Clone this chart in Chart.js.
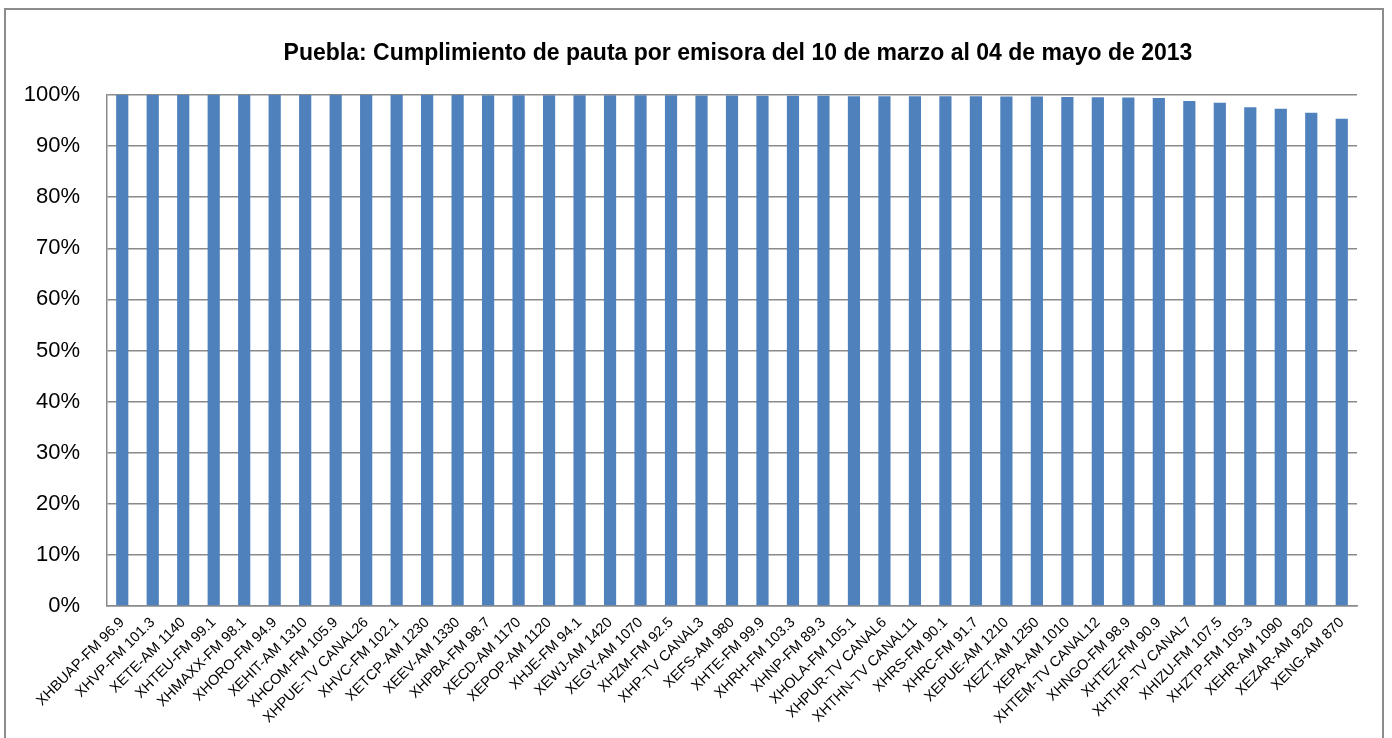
<!DOCTYPE html>
<html>
<head>
<meta charset="utf-8">
<script src="https://cdn.jsdelivr.net/npm/chart.js@4"></script>
<style>
    html, body { margin: 0; padding: 0; background: #fff; }
    #wrap { position: relative; width: 1392px; height: 738px; overflow: hidden; }
    #frame { position: absolute; left: 4px; top: 8px; width: 1380px; height: 760px; border: 2px solid #8c8c8c; box-sizing: border-box; }
    #chart { position: absolute; left: 0; top: 0; }
    #title { position: absolute; left: 84px; right: 0; top: 38px; text-align: center;
             font: bold 23px/28px 'Liberation Sans', sans-serif; color: #000; }
</style>
</head>
<body>
<div id="wrap">
    <div id="frame"></div>
    <canvas id="chart" width="1392" height="738"></canvas>
    <div id="title"></div>
</div>
<script>
// Emisoras (eje X)
const stations = [
    'XHBUAP-FM 96.9', 'XHVP-FM 101.3', 'XETE-AM 1140', 'XHTEU-FM 99.1', 'XHMAXX-FM 98.1',
    'XHORO-FM 94.9', 'XEHIT-AM 1310', 'XHCOM-FM 105.9', 'XHPUE-TV CANAL26', 'XHVC-FM 102.1',
    'XETCP-AM 1230', 'XEEV-AM 1330', 'XHPBA-FM 98.7', 'XECD-AM 1170', 'XEPOP-AM 1120',
    'XHJE-FM 94.1', 'XEWJ-AM 1420', 'XEGY-AM 1070', 'XHZM-FM 92.5', 'XHP-TV CANAL3',
    'XEFS-AM 980', 'XHTE-FM 99.9', 'XHRH-FM 103.3', 'XHNP-FM 89.3', 'XHOLA-FM 105.1',
    'XHPUR-TV CANAL6', 'XHTHN-TV CANAL11', 'XHRS-FM 90.1', 'XHRC-FM 91.7', 'XEPUE-AM 1210',
    'XEZT-AM 1250', 'XEPA-AM 1010', 'XHTEM-TV CANAL12', 'XHNGO-FM 98.9', 'XHTEZ-FM 90.9',
    'XHTHP-TV CANAL7', 'XHIZU-FM 107.5', 'XHZTP-FM 105.3', 'XEHR-AM 1090', 'XEZAR-AM 920',
    'XENG-AM 870'
];

// Porcentaje de cumplimiento
const compliance = [
    100, 100, 100, 100, 100,
    100, 100, 100, 100, 100,
    100, 100, 99.95, 99.95, 99.95,
    99.95, 99.95, 99.95, 99.95, 99.9,
    99.9, 99.85, 99.85, 99.85, 99.75,
    99.75, 99.75, 99.75, 99.75, 99.7,
    99.7, 99.6, 99.55, 99.5, 99.4,
    98.85, 98.5, 97.6, 97.3, 96.55,
    95.35
];

// Ticks del eje Y
const yTicks = [0, 10, 20, 30, 40, 50, 60, 70, 80, 90, 100];

const chartTitle = 'Puebla: Cumplimiento de pauta por emisora del 10 de marzo al 04 de mayo de 2013';

const gridColor = '#8a8a8a';

// title sits off-centre in the original, so it's plain HTML over the canvas
document.getElementById('title').textContent = chartTitle;

new Chart(document.getElementById('chart'), {
    type: 'bar',
    data: {
        labels: stations,
        datasets: [{
            data: compliance,
            backgroundColor: '#4f81bd',
            borderWidth: 0,
            barPercentage: 0.4,
            categoryPercentage: 1.0
        }]
    },
    options: {
        responsive: false,
        animation: false,
        layout: {
            padding: { top: 95, right: 35, bottom: 0, left: 0 }
        },
        plugins: {
            legend: { display: false },
            tooltip: { enabled: false },
            title: { display: false }
        },
        scales: {
            y: {
                min: 0,
                max: 100,
                afterBuildTicks: function (scale) {
                    scale.ticks = yTicks.map(v => ({ value: v }));
                },
                afterFit: function (scale) {
                    scale.width = 107;
                },
                grid: {
                    color: gridColor,
                    lineWidth: 1.5,
                    drawTicks: false
                },
                border: { display: true, color: gridColor, width: 1.5 },
                ticks: {
                    color: '#000',
                    padding: 27,
                    font: { family: 'Liberation Sans', size: 22 },
                    callback: function (value) { return value + '%'; }
                }
            },
            x: {
                afterFit: function (scale) {
                    scale.height = 132;
                },
                grid: { display: false, drawTicks: false },
                border: { display: true, color: gridColor, width: 1.5 },
                ticks: {
                    color: '#000',
                    autoSkip: false,
                    maxRotation: 45,
                    minRotation: 45,
                    padding: 8,
                    font: { family: 'Liberation Sans', size: 14.5 }
                }
            }
        }
    }
});
</script>
</body>
</html>
